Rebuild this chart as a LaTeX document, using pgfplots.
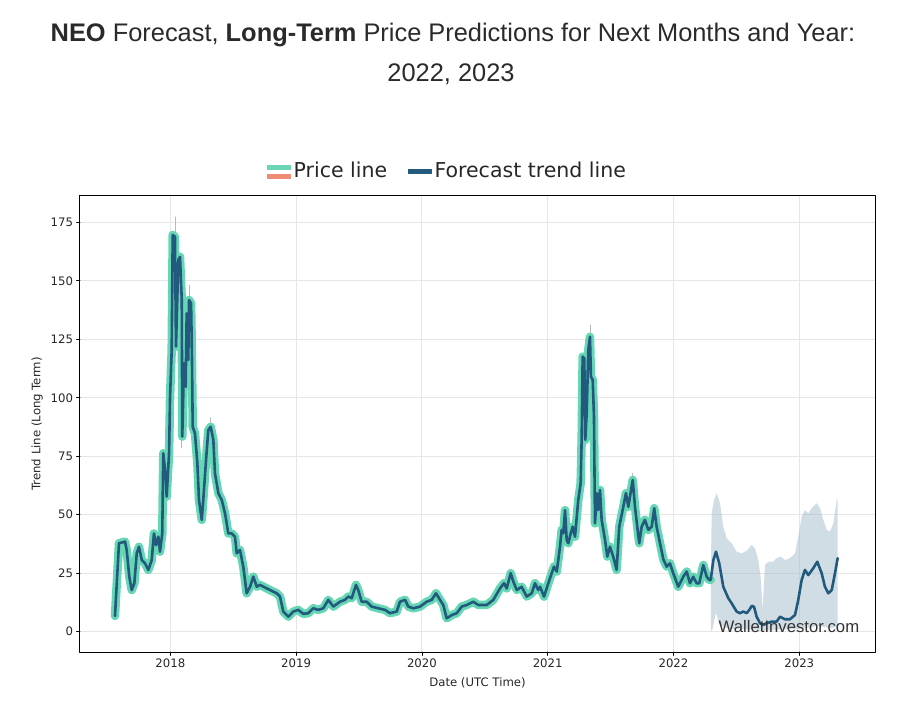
\documentclass[border=0pt]{standalone}
\usepackage{pgfplots}
\pgfplotsset{compat=1.18}
\usepackage{fontspec}
\setmainfont{DejaVu Sans}
\newfontfamily\arialf{Liberation Sans}
\definecolor{pricegreen}{HTML}{66D6B5}
\definecolor{trenddark}{HTML}{215A7C}
\definecolor{salmonc}{HTML}{EE8C74}
\definecolor{bandc}{HTML}{A3BCCC}
\definecolor{gridc}{HTML}{E6E6E6}
\definecolor{titlec}{HTML}{2A2A2A}
\begin{document}
\begin{tikzpicture}
\path[use as bounding box] (-80pt,-50pt) rectangle (839pt,652pt);
\begin{axis}[
  at={(0,0)}, anchor=south west,
  scale only axis, width=795pt, height=456pt,
  xmin=2017.282, xmax=2023.602, ymin=-8.7, ymax=186.3,
  xtick={2018,2019,2020,2021,2022,2023},
  ytick={0,25,50,75,100,125,150,175},
  /pgf/number format/assume math mode=true,
  /pgf/number format/1000 sep={},
  tick pos=left, tick align=outside, major tick length=3.5pt,
  tick style={black, line width=0.8pt},
  grid=major, major grid style={gridc, line width=0.9pt},
  axis line style={black, line width=1pt},
  ticklabel style={font=\fontsize{11.7}{13}\selectfont, text=black!85},
  xlabel={Date (UTC Time)}, ylabel={Trend Line (Long Term)},
  label style={font=\fontsize{11.7}{13}\selectfont, text=black!85},
  xlabel style={at={(axis description cs:0.5,-0.068)}, anchor=center},
  ylabel style={at={(axis description cs:-0.054,0.5)}, anchor=center},
  legend columns=2,
  legend style={at={(0.463,1.055)}, anchor=center, draw=none, fill=none,
    font=\fontsize{20.5}{24}\selectfont, text=black!85,
    /tikz/every even column/.append style={column sep=18pt},
    nodes={inner sep=3pt}},
  line join=round, line cap=round,
]
% legend
\addlegendimage{legend image code/.code={
  \fill[pricegreen] (0pt,2pt) rectangle (23pt,5.5pt);
  \fill[salmonc] (0pt,-7pt) rectangle (23pt,-3.5pt);}}
\addlegendentry{Price line}
\addlegendimage{legend image code/.code={
  \fill[trenddark] (0pt,-1.8pt) rectangle (23pt,1.6pt);}}
\addlegendentry{Forecast trend line}

% forecast band
\addplot[forget plot, draw=none, fill=bandc, fill opacity=0.5] coordinates {
(2022.296,22.1) (2022.304,50.6) (2022.322,56.3) (2022.344,59.2) (2022.370,54.9)
(2022.396,44.9) (2022.423,39.9) (2022.463,37.8) (2022.502,34.2) (2022.542,33.5)
(2022.582,34.6) (2022.622,37.1) (2022.648,35.6) (2022.674,30.6) (2022.693,23.5)
(2022.709,9.3) (2022.727,28.5) (2022.754,29.9) (2022.793,29.9) (2022.820,31.4)
(2022.852,32.1) (2022.886,30.6) (2022.926,31.4) (2022.966,33.5) (2022.992,40.6)
(2023.019,49.2) (2023.045,52.0) (2023.072,50.6) (2023.099,52.8) (2023.138,54.9)
(2023.165,52.8) (2023.191,47.8) (2023.218,43.5) (2023.244,42.8) (2023.271,46.3)
(2023.298,56.3) (2023.305,57.0)
(2023.305,2.0) (2023.25,1.5) (2023.15,2.5) (2023.05,1.5) (2022.95,1.0)
(2022.85,1.0) (2022.75,0.5) (2022.70,0.3) (2022.60,1.0) (2022.50,1.0)
(2022.42,1.5) (2022.37,3.0) (2022.35,6.0) (2022.338,8.1) (2022.325,5.0)
(2022.31,1.0) (2022.298,0.2)
} -- cycle;

% wicks
\addplot[forget plot, gray!55, line width=0.6pt, unbounded coords=jump] coordinates {
(2018.037,168) (2018.037,177.4) (2018.037,inf)
(2018.149,140) (2018.149,148.2) (2018.149,inf)
(2018.091,84) (2018.091,78.5) (2018.091,inf)
(2018.321,86) (2018.321,91.5) (2018.321,inf)
(2021.336,125) (2021.336,131.1) (2021.336,inf)
(2021.676,63) (2021.676,67.7)
};

% price line (history)
\addplot[forget plot, pricegreen, line width=8.5pt] coordinates {
(2017.560,6.7) (2017.592,37.8) (2017.640,38.5) (2017.653,35.0) (2017.674,23.5)
(2017.693,17.8) (2017.714,20.7) (2017.733,33.5) (2017.751,36.3) (2017.773,30.6)
(2017.799,29.2) (2017.825,26.4) (2017.852,30.6) (2017.870,42.0) (2017.886,37.0)
(2017.905,40.6) (2017.918,34.2) (2017.936,42.0) (2017.944,76.3) (2017.963,66.3)
(2017.971,57.7) (2017.990,76.4) (2017.998,100.5) (2018.011,120.4) (2018.019,169.6)
(2018.037,168.9) (2018.045,121.9) (2018.064,159.0) (2018.077,160.3) (2018.091,141.8)
(2018.095,83.4) (2018.109,114.7) (2018.122,104.7) (2018.130,136.1) (2018.143,116.2)
(2018.149,141.8) (2018.165,140.4) (2018.172,117.6) (2018.178,87.6) (2018.196,84.8)
(2018.215,72.0) (2018.228,56.3) (2018.250,47.8) (2018.262,56.3) (2018.284,73.4)
(2018.302,86.2) (2018.321,87.6) (2018.342,82.0) (2018.355,67.7) (2018.382,59.2)
(2018.409,56.3) (2018.435,50.6) (2018.461,42.0) (2018.488,42.0) (2018.514,40.6)
(2018.528,33.5) (2018.554,34.9) (2018.580,27.8) (2018.607,16.4) (2018.634,19.2)
(2018.660,23.5) (2018.687,19.2) (2018.713,20.0) (2018.766,18.5) (2018.819,17.1)
(2018.846,16.4) (2018.872,15.0) (2018.898,8.6) (2018.938,6.4) (2018.978,8.6)
(2019.017,9.3) (2019.057,7.6) (2019.097,7.9) (2019.137,10.0) (2019.176,9.3)
(2019.216,10.0) (2019.256,13.6) (2019.296,10.7) (2019.349,12.8) (2019.389,13.6)
(2019.415,15.0) (2019.442,14.3) (2019.476,20.0) (2019.494,17.8) (2019.521,12.8)
(2019.561,12.8) (2019.601,10.7) (2019.653,10.0) (2019.707,9.3) (2019.746,7.9)
(2019.800,8.6) (2019.826,12.8) (2019.866,13.6) (2019.892,10.7) (2019.932,10.0)
(2019.985,10.7) (2020.038,12.8) (2020.078,13.6) (2020.112,16.4) (2020.144,13.6)
(2020.170,11.4) (2020.197,5.7) (2020.237,7.1) (2020.277,7.9) (2020.316,10.7)
(2020.356,11.4) (2020.409,12.8) (2020.448,11.4) (2020.515,11.4) (2020.568,13.6)
(2020.621,18.5) (2020.653,20.7) (2020.674,18.5) (2020.706,25.0) (2020.727,21.4)
(2020.754,17.8) (2020.793,19.2) (2020.833,15.0) (2020.873,16.4) (2020.899,20.7)
(2020.925,17.8) (2020.939,19.2) (2020.971,15.0) (2021.005,20.7) (2021.032,25.0)
(2021.050,27.8) (2021.072,25.7) (2021.098,36.3) (2021.111,43.5) (2021.124,42.0)
(2021.138,52.0) (2021.151,39.2) (2021.164,37.8) (2021.183,42.0) (2021.199,44.9)
(2021.217,40.6) (2021.243,56.3) (2021.262,63.4) (2021.270,82.0) (2021.278,117.6)
(2021.291,116.9) (2021.299,82.0) (2021.310,93.4) (2021.323,120.4) (2021.336,126.1)
(2021.344,109.0) (2021.358,107.6) (2021.368,91.9) (2021.376,46.3) (2021.390,59.2)
(2021.402,52.0) (2021.416,60.6) (2021.429,47.8) (2021.456,39.2) (2021.474,32.1)
(2021.495,36.3) (2021.521,32.1) (2021.548,26.4) (2021.569,44.9) (2021.601,53.4)
(2021.622,59.2) (2021.641,53.4) (2021.676,64.9) (2021.694,53.4) (2021.712,44.9)
(2021.728,37.8) (2021.747,44.9) (2021.773,47.8) (2021.800,43.5) (2021.827,44.9)
(2021.847,52.8) (2021.866,44.9) (2021.893,37.8) (2021.919,31.0) (2021.946,27.8)
(2021.972,29.2) (2021.998,25.0) (2022.038,19.2) (2022.078,23.5) (2022.105,25.7)
(2022.131,20.7) (2022.157,23.5) (2022.184,20.7) (2022.205,20.7) (2022.237,28.5)
(2022.264,23.5) (2022.285,22.1) (2022.296,22.1)
};

% trend line (history + forecast)
\addplot[forget plot, trenddark, line width=2.6pt] coordinates {
(2017.560,6.7) (2017.592,37.8) (2017.640,38.5) (2017.653,35.0) (2017.674,23.5)
(2017.693,17.8) (2017.714,20.7) (2017.733,33.5) (2017.751,36.3) (2017.773,30.6)
(2017.799,29.2) (2017.825,26.4) (2017.852,30.6) (2017.870,42.0) (2017.886,37.0)
(2017.905,40.6) (2017.918,34.2) (2017.936,42.0) (2017.944,76.3) (2017.963,66.3)
(2017.971,57.7) (2017.990,76.4) (2017.998,100.5) (2018.011,120.4) (2018.019,169.6)
(2018.037,168.9) (2018.045,121.9) (2018.064,159.0) (2018.077,160.3) (2018.091,141.8)
(2018.095,83.4) (2018.109,114.7) (2018.122,104.7) (2018.130,136.1) (2018.143,116.2)
(2018.149,141.8) (2018.165,140.4) (2018.172,117.6) (2018.178,87.6) (2018.196,84.8)
(2018.215,72.0) (2018.228,56.3) (2018.250,47.8) (2018.262,56.3) (2018.284,73.4)
(2018.302,86.2) (2018.321,87.6) (2018.342,82.0) (2018.355,67.7) (2018.382,59.2)
(2018.409,56.3) (2018.435,50.6) (2018.461,42.0) (2018.488,42.0) (2018.514,40.6)
(2018.528,33.5) (2018.554,34.9) (2018.580,27.8) (2018.607,16.4) (2018.634,19.2)
(2018.660,23.5) (2018.687,19.2) (2018.713,20.0) (2018.766,18.5) (2018.819,17.1)
(2018.846,16.4) (2018.872,15.0) (2018.898,8.6) (2018.938,6.4) (2018.978,8.6)
(2019.017,9.3) (2019.057,7.6) (2019.097,7.9) (2019.137,10.0) (2019.176,9.3)
(2019.216,10.0) (2019.256,13.6) (2019.296,10.7) (2019.349,12.8) (2019.389,13.6)
(2019.415,15.0) (2019.442,14.3) (2019.476,20.0) (2019.494,17.8) (2019.521,12.8)
(2019.561,12.8) (2019.601,10.7) (2019.653,10.0) (2019.707,9.3) (2019.746,7.9)
(2019.800,8.6) (2019.826,12.8) (2019.866,13.6) (2019.892,10.7) (2019.932,10.0)
(2019.985,10.7) (2020.038,12.8) (2020.078,13.6) (2020.112,16.4) (2020.144,13.6)
(2020.170,11.4) (2020.197,5.7) (2020.237,7.1) (2020.277,7.9) (2020.316,10.7)
(2020.356,11.4) (2020.409,12.8) (2020.448,11.4) (2020.515,11.4) (2020.568,13.6)
(2020.621,18.5) (2020.653,20.7) (2020.674,18.5) (2020.706,25.0) (2020.727,21.4)
(2020.754,17.8) (2020.793,19.2) (2020.833,15.0) (2020.873,16.4) (2020.899,20.7)
(2020.925,17.8) (2020.939,19.2) (2020.971,15.0) (2021.005,20.7) (2021.032,25.0)
(2021.050,27.8) (2021.072,25.7) (2021.098,36.3) (2021.111,43.5) (2021.124,42.0)
(2021.138,52.0) (2021.151,39.2) (2021.164,37.8) (2021.183,42.0) (2021.199,44.9)
(2021.217,40.6) (2021.243,56.3) (2021.262,63.4) (2021.270,82.0) (2021.278,117.6)
(2021.291,116.9) (2021.299,82.0) (2021.310,93.4) (2021.323,120.4) (2021.336,126.1)
(2021.344,109.0) (2021.358,107.6) (2021.368,91.9) (2021.376,46.3) (2021.390,59.2)
(2021.402,52.0) (2021.416,60.6) (2021.429,47.8) (2021.456,39.2) (2021.474,32.1)
(2021.495,36.3) (2021.521,32.1) (2021.548,26.4) (2021.569,44.9) (2021.601,53.4)
(2021.622,59.2) (2021.641,53.4) (2021.676,64.9) (2021.694,53.4) (2021.712,44.9)
(2021.728,37.8) (2021.747,44.9) (2021.773,47.8) (2021.800,43.5) (2021.827,44.9)
(2021.847,52.8) (2021.866,44.9) (2021.893,37.8) (2021.919,31.0) (2021.946,27.8)
(2021.972,29.2) (2021.998,25.0) (2022.038,19.2) (2022.078,23.5) (2022.105,25.7)
(2022.131,20.7) (2022.157,23.5) (2022.184,20.7) (2022.205,20.7) (2022.237,28.5)
(2022.264,23.5) (2022.285,22.1) (2022.296,22.1)
(2022.317,30.6) (2022.338,34.2) (2022.364,29.2) (2022.396,19.2) (2022.436,14.3)
(2022.463,12.1) (2022.502,8.6) (2022.529,7.9) (2022.555,8.6) (2022.582,7.9)
(2022.603,9.3) (2022.622,11.0) (2022.640,10.7) (2022.661,6.4) (2022.688,3.6)
(2022.714,2.9) (2022.741,3.6) (2022.781,4.3) (2022.820,4.3) (2022.847,6.4)
(2022.886,5.3) (2022.926,5.3) (2022.966,7.1) (2022.992,13.6) (2023.019,22.1)
(2023.045,26.4) (2023.072,24.2) (2023.111,27.1) (2023.143,29.9) (2023.178,25.0)
(2023.204,19.2) (2023.231,16.4) (2023.258,17.8) (2023.284,25.0) (2023.305,31.4)
};

\node[font=\arialf\fontsize{16.7}{18}\selectfont, text=black!80, anchor=center]
  at (axis cs:2022.918,2.3) {WalletInvestor.com};
\end{axis}
\node[anchor=base, text=titlec, font=\arialf\fontsize{25.4}{30}\selectfont]
  at (373pt,610pt) {\textbf{NEO} Forecast, \textbf{Long-Term} Price Predictions for Next Months and Year:};
\node[anchor=base, text=titlec, font=\arialf\fontsize{25.4}{30}\selectfont]
  at (371pt,570pt) {2022, 2023};
\end{tikzpicture}
\end{document}
